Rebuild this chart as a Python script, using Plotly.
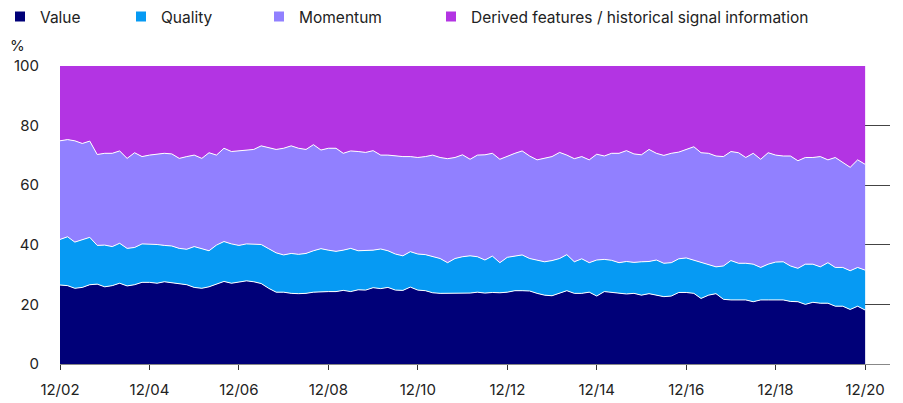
import plotly.graph_objects as go
import pandas as pd

# bimonthly observations, 12/2002 - 12/2020
dates = pd.date_range("2002-12-01", "2020-12-01", freq="2MS")

value = [26.5, 26.3, 25.4, 25.7, 26.6, 26.8, 25.9, 26.3, 27.1, 26.2,
         26.6, 27.4, 27.4, 27.1, 27.6, 27.3, 27.0, 26.6, 25.7, 25.4,
         25.9, 26.8, 27.7, 27.1, 27.4, 27.9, 27.6, 27.0, 25.4, 24.1,
         24.1, 23.7, 23.6, 23.7, 24.1, 24.3, 24.3, 24.3, 24.7, 24.3,
         24.9, 24.8, 25.6, 25.3, 25.7, 24.8, 24.7, 25.8, 24.8, 24.6,
         23.9, 23.7, 23.7, 23.6, 23.7, 23.8, 24.1, 23.8, 24.0, 23.9,
         24.1, 24.6, 24.6, 24.5, 23.7, 23.1, 22.9, 23.9, 24.6, 23.7,
         23.7, 24.1, 22.8, 24.3, 24.1, 23.7, 23.5, 23.7, 23.1, 23.6,
         23.1, 22.6, 22.8, 24.0, 24.0, 23.7, 22.0, 23.1, 23.6, 21.7,
         21.5, 21.5, 21.5, 20.9, 21.5, 21.5, 21.6, 21.5, 21.0, 20.9,
         20.0, 20.7, 20.4, 20.4, 19.4, 19.4, 18.3, 19.4, 18.1]

quality = [15.3, 16.4, 15.5, 16.1, 15.9, 13.0, 14.0, 13.1, 13.4, 12.6,
           12.5, 12.9, 12.9, 13.0, 12.2, 12.3, 11.8, 11.9, 13.7, 13.3,
           12.1, 13.1, 13.4, 13.2, 12.4, 12.4, 12.7, 13.1, 13.3, 13.2,
           12.5, 13.4, 13.2, 13.4, 13.9, 14.4, 13.9, 13.5, 13.5, 14.5,
           13.1, 13.2, 12.6, 13.3, 12.3, 12.1, 11.6, 11.9, 12.1, 12.1,
           12.1, 11.7, 10.3, 11.8, 12.3, 12.5, 11.9, 11.1, 12.2, 10.1,
           11.7, 11.5, 12.0, 10.9, 11.2, 11.2, 11.8, 11.5, 12.1, 10.6,
           11.6, 9.9, 12.1, 10.8, 10.7, 10.3, 10.9, 10.4, 11.2, 10.8,
           11.8, 11.2, 11.2, 11.3, 11.6, 11.2, 12.0, 10.4, 9.0, 11.2,
           13.2, 12.3, 12.3, 12.6, 10.9, 12.0, 12.6, 12.8, 11.9, 11.2,
           13.5, 12.8, 12.2, 13.6, 13.0, 13.0, 13.0, 13.0, 13.4]

momentum = [33.1, 32.6, 34.0, 32.2, 32.3, 30.5, 30.8, 31.3, 31.0, 30.2,
            31.8, 29.3, 29.8, 30.3, 30.9, 30.9, 30.2, 31.1, 30.7, 30.3,
            32.9, 30.2, 31.3, 31.0, 31.8, 31.5, 31.7, 33.1, 34.0, 34.7,
            35.8, 36.1, 35.6, 34.9, 35.6, 33.1, 34.2, 34.6, 32.5, 32.7,
            33.3, 33.0, 33.4, 31.5, 32.1, 32.9, 33.3, 31.9, 32.4, 32.9,
            34.1, 33.9, 34.9, 33.9, 34.2, 32.4, 34.1, 35.3, 34.5, 34.7,
            34.0, 34.6, 34.9, 34.4, 33.6, 34.7, 34.9, 35.6, 33.4, 34.6,
            34.3, 34.5, 35.5, 34.7, 35.9, 36.7, 37.2, 36.4, 35.9, 37.6,
            35.8, 36.2, 36.7, 35.8, 36.4, 38.0, 36.9, 37.2, 37.2, 36.7,
            36.6, 37.1, 35.5, 37.2, 36.3, 37.4, 35.9, 35.5, 36.9, 36.1,
            35.8, 35.8, 37.0, 34.5, 36.9, 35.2, 34.7, 36.1, 35.5]

derived = [25.1, 24.7, 25.1, 26.0, 25.2, 29.7, 29.3, 29.3, 28.5, 31.0,
           29.1, 30.4, 29.9, 29.6, 29.3, 29.5, 31.0, 30.4, 29.9, 31.0,
           29.1, 29.9, 27.6, 28.7, 28.4, 28.2, 28.0, 26.8, 27.3, 28.0,
           27.6, 26.8, 27.6, 28.0, 26.4, 28.2, 27.6, 27.6, 29.3, 28.5,
           28.7, 29.0, 28.4, 29.9, 29.9, 30.2, 30.4, 30.4, 30.7, 30.4,
           29.9, 30.7, 31.1, 30.7, 29.8, 31.3, 29.9, 29.8, 29.3, 31.3,
           30.2, 29.3, 28.5, 30.2, 31.5, 31.0, 30.4, 29.0, 29.9, 31.1,
           30.4, 31.5, 29.6, 30.2, 29.3, 29.3, 28.4, 29.5, 29.8, 28.0,
           29.3, 30.0, 29.3, 28.9, 28.0, 27.1, 29.1, 29.3, 30.2, 30.4,
           28.7, 29.1, 30.7, 29.3, 31.3, 29.1, 29.9, 30.2, 30.2, 31.8,
           30.7, 30.7, 30.4, 31.5, 30.7, 32.4, 34.0, 31.5, 33.0]

series = [
    ("Value", value, "#000078"),
    ("Quality", quality, "#069af3"),
    ("Momentum", momentum, "#9180ff"),
    ("Derived features / historical signal information", derived, "#b334e3"),
]

FONT = "Inter, Roboto, sans-serif"
TXT = "#222222"
# left pixel of each legend entry
legend_px = [-5, 121, 259, 431]

fig = go.Figure()
legends = {}
for i, (name, vals, col) in enumerate(series):
    last = i == len(series) - 1
    fig.add_trace(go.Scatter(
        x=dates, y=vals, name=name, stackgroup="one", mode="lines",
        line=dict(color="white", width=0 if last else 1),
        fillcolor=col, showlegend=False, hoverinfo="skip",
    ))
    # square legend keys, one legend per entry so spacing can be set
    lg = "legend" if i == 0 else f"legend{i + 1}"
    fig.add_trace(go.Scatter(
        x=[None], y=[None], name=name, mode="markers", legend=lg,
        marker=dict(symbol="square", size=10, color=col),
    ))
    legends[lg] = dict(
        orientation="h", xref="container", yref="container",
        x=legend_px[i] / 903, y=0.958, xanchor="left", yanchor="middle",
        font=dict(family=FONT, size=15.5, color=TXT),
        bgcolor="rgba(0,0,0,0)",
        itemclick=False, itemdoubleclick=False,
    )

fig.add_annotation(
    text="%", xref="paper", yref="paper", x=-0.063, y=1.07,
    xanchor="left", yanchor="middle", showarrow=False,
    font=dict(family=FONT, size=15, color=TXT),
)

fig.update_layout(
    width=903, height=403,
    paper_bgcolor="white", plot_bgcolor="white",
    margin=dict(l=60, r=13, t=66, b=39, autoexpand=False),
    font=dict(family=FONT, size=15, color=TXT),
    xaxis=dict(
        range=["2002-12-01", "2021-06-22"],
        tick0="2002-12-01", dtick="M24", tickformat="%m/%y",
        ticks="outside", ticklen=5, tickcolor="#333",
        showline=True, linecolor="#888", linewidth=1,
        showgrid=False, zeroline=False, ticklabelstandoff=7,
    ),
    yaxis=dict(
        range=[0, 100], dtick=20,
        showgrid=True, gridcolor="#444", gridwidth=1,
        zeroline=False, ticklabelstandoff=20,
    ),
    **legends,
)

fig.write_html("out.html", config={"displayModeBar": False},
               post_script="document.body.style.margin='0';")
